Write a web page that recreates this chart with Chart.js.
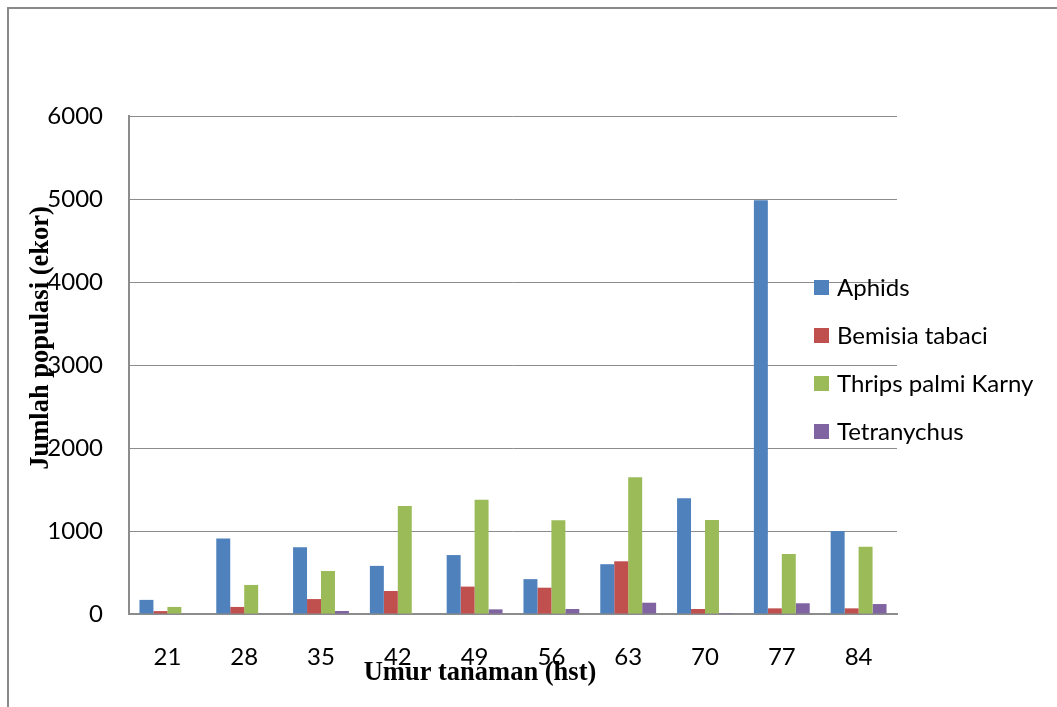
<!DOCTYPE html>
<html>
<head>
<meta charset="utf-8">
<title>Jumlah populasi hama</title>
<script src="https://cdn.jsdelivr.net/npm/chart.js@4/dist/chart.umd.min.js"></script>
<style>
  html, body { margin: 0; padding: 0; background: #ffffff; }
  #wrap { width: 1057px; height: 707px; position: relative; }
</style>
</head>
<body>
<div id="wrap"><canvas id="c" width="1057" height="707"></canvas></div>
<script>
// Umur tanaman (hari setelah tanam)
const categories = ['21', '28', '35', '42', '49', '56', '63', '70', '77', '84'];

// Jumlah populasi (ekor) per jenis hama
const aphids      = [170, 910, 805, 580, 710, 420, 600, 1395, 4985, 1000];
const bemisia     = [35, 85, 180, 277, 330, 317, 635, 60, 68, 68];
const thrips      = [85, 350, 518, 1301, 1377, 1129, 1647, 1133, 723, 811];
const tetranychus = [0, 0, 36, 0, 56, 60, 136, 12, 129, 120];

const seriesNames = ['Aphids', 'Bemisia tabaci', 'Thrips palmi Karny', 'Tetranychus'];
const seriesColors = ['#4F81BD', '#C0504D', '#9BBB59', '#8064A2'];

const yTicks = [0, 1000, 2000, 3000, 4000, 5000, 6000];

const xTitle = 'Umur tanaman (hst)';
const yTitle = 'Jumlah populasi (ekor)';

const gridColor = '#8c8c8c';
const labelFont = 'Lato, "Open Sans", sans-serif';

// Outer frame, axis titles and the legend placed over the plot's right side
const decorations = {
  id: 'decorations',
  beforeDraw(chart) {
    const ctx = chart.ctx;
    ctx.save();
    ctx.fillStyle = '#ffffff';
    ctx.fillRect(0, 0, chart.width, chart.height);
    ctx.strokeStyle = '#8a8a8a';
    ctx.lineWidth = 2;
    ctx.beginPath();
    ctx.moveTo(8, chart.height);
    ctx.lineTo(8, 8);
    ctx.lineTo(chart.width, 8);
    ctx.stroke();
    ctx.restore();
  },
  afterDraw(chart) {
    const ctx = chart.ctx;
    ctx.save();
    ctx.fillStyle = '#000000';
    ctx.font = 'bold 26.5px "Liberation Serif", "Times New Roman", serif';
    ctx.textAlign = 'center';
    ctx.textBaseline = 'middle';
    ctx.fillText(xTitle, 480, 673);
    ctx.save();
    ctx.translate(41, 338);
    ctx.rotate(-Math.PI / 2);
    ctx.fillText(yTitle, 0, 0);
    ctx.restore();

    ctx.font = '24px ' + labelFont;
    ctx.textAlign = 'left';
    chart.data.datasets.forEach((ds, i) => {
      const cy = 287.5 + i * 48;
      ctx.fillStyle = ds.backgroundColor;
      ctx.fillRect(814, cy - 7.5, 15, 15);
      ctx.fillStyle = '#000000';
      ctx.fillText(ds.label, 837, cy + 1);
    });
    ctx.restore();
  }
};

function build() {
  const seriesValues = [aphids, bemisia, thrips, tetranychus];
  new Chart(document.getElementById('c'), {
    type: 'bar',
    data: {
      labels: categories,
      datasets: seriesValues.map((vals, i) => ({
        label: seriesNames[i],
        data: vals,
        backgroundColor: seriesColors[i],
        borderWidth: 0,
        categoryPercentage: 4 / 5.5,
        barPercentage: 1.0
      }))
    },
    options: {
      responsive: false,
      animation: false,
      devicePixelRatio: 1,
      layout: { padding: { left: 0, top: 116, right: 160, bottom: 0 } },
      plugins: {
        legend: { display: false },
        tooltip: { enabled: false },
        title: { display: false }
      },
      scales: {
        x: {
          grid: { display: false, drawTicks: false },
          border: { display: true, color: gridColor, width: 2 },
          ticks: {
            color: '#000000',
            font: { family: labelFont, size: 24 },
            padding: 29,
            maxRotation: 0
          },
          afterFit(scale) { scale.height = 93; }
        },
        y: {
          min: 0,
          max: 6000,
          afterBuildTicks(scale) { scale.ticks = yTicks.map(v => ({ value: v })); },
          grid: { color: gridColor, lineWidth: 1, drawTicks: false },
          border: { display: true, color: gridColor, width: 2 },
          ticks: {
            color: '#000000',
            font: { family: labelFont, size: 24 },
            padding: 26,
            callback: (v) => String(v)
          },
          afterFit(scale) { scale.width = 129; }
        }
      }
    },
    plugins: [decorations]
  });
}

Promise.all([
  document.fonts.load('24px Lato'),
  document.fonts.load('bold 26.5px "Liberation Serif"')
]).then(build, build);
</script>
</body>
</html>
